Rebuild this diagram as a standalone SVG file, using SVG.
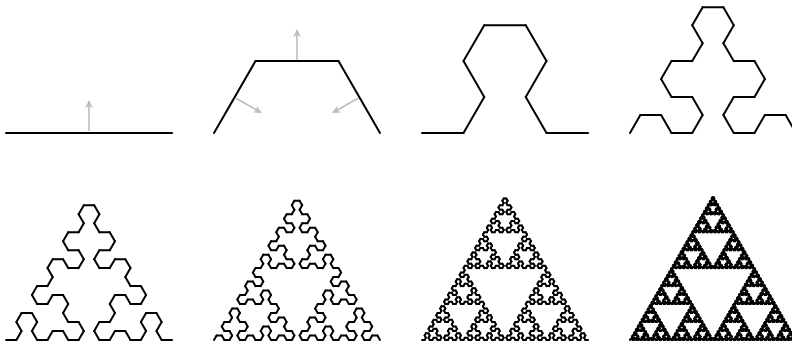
<svg xmlns="http://www.w3.org/2000/svg" xmlns:xlink="http://www.w3.org/1999/xlink" width="792" height="343" viewBox="0 0 792 343">
<style>
.curve{fill:none;stroke:#000;stroke-linecap:round;stroke-linejoin:round}
.arrow{fill:none;stroke:#bdbdbd;stroke-width:1.6}
</style>
<defs>
<marker id="ah" viewBox="0 0 10 10" refX="9" refY="5" markerUnits="userSpaceOnUse" markerWidth="9" markerHeight="8" orient="auto">
<path d="M0 0L10 5L0 10L3 5z" fill="#bdbdbd"/>
</marker>
<path id="c0" d="M0 0H1"/>
<g id="c1"><use href="#c0" transform="rotate(-60) scale(.5,-.5)"/><use href="#c0" transform="translate(.25,-.4330127) scale(.5)"/><use href="#c0" transform="translate(.75,-.4330127) rotate(60) scale(.5,-.5)"/></g>
<g id="c2"><use href="#c1" transform="rotate(-60) scale(.5,-.5)"/><use href="#c1" transform="translate(.25,-.4330127) scale(.5)"/><use href="#c1" transform="translate(.75,-.4330127) rotate(60) scale(.5,-.5)"/></g>
<g id="c3"><use href="#c2" transform="rotate(-60) scale(.5,-.5)"/><use href="#c2" transform="translate(.25,-.4330127) scale(.5)"/><use href="#c2" transform="translate(.75,-.4330127) rotate(60) scale(.5,-.5)"/></g>
<g id="c4"><use href="#c3" transform="rotate(-60) scale(.5,-.5)"/><use href="#c3" transform="translate(.25,-.4330127) scale(.5)"/><use href="#c3" transform="translate(.75,-.4330127) rotate(60) scale(.5,-.5)"/></g>
<g id="c5"><use href="#c4" transform="rotate(-60) scale(.5,-.5)"/><use href="#c4" transform="translate(.25,-.4330127) scale(.5)"/><use href="#c4" transform="translate(.75,-.4330127) rotate(60) scale(.5,-.5)"/></g>
<g id="c6"><use href="#c5" transform="rotate(-60) scale(.5,-.5)"/><use href="#c5" transform="translate(.25,-.4330127) scale(.5)"/><use href="#c5" transform="translate(.75,-.4330127) rotate(60) scale(.5,-.5)"/></g>
<g id="c7"><use href="#c6" transform="rotate(-60) scale(.5,-.5)"/><use href="#c6" transform="translate(.25,-.4330127) scale(.5)"/><use href="#c6" transform="translate(.75,-.4330127) rotate(60) scale(.5,-.5)"/></g>
</defs>
<rect width="792" height="343" fill="#fff"/>
<g id="order0">
<path class="curve" d="M6 133H172" stroke-width="2"/>
<path class="arrow" d="M89 131V101" marker-end="url(#ah)"/>
</g>
<g id="order1">
<use class="curve" href="#c1" transform="translate(214,133) scale(166)" stroke-width="0.0241"/>
<path class="arrow" d="M297 60V30" marker-end="url(#ah)"/>
<path class="arrow" d="M235.5 98L261 112.5" marker-end="url(#ah)"/>
<path class="arrow" d="M358.5 98L333 112.5" marker-end="url(#ah)"/>
</g>
<g id="order2"><use class="curve" href="#c2" transform="translate(422,133) scale(166)" stroke-width="0.0482"/></g>
<g id="order3"><use class="curve" href="#c3" transform="translate(630,133) scale(166)" stroke-width="0.0964"/></g>
<g id="order4"><use class="curve" href="#c4" transform="translate(6,340) scale(166)" stroke-width="0.1928"/></g>
<g id="order5"><use class="curve" href="#c5" transform="translate(214,340) scale(166)" stroke-width="0.3855"/></g>
<g id="order6"><use class="curve" href="#c6" transform="translate(422,340) scale(166)" stroke-width="0.771"/></g>
<g id="order7"><use class="curve" href="#c7" transform="translate(630,340) scale(166)" stroke-width="1.542"/></g>
</svg>
